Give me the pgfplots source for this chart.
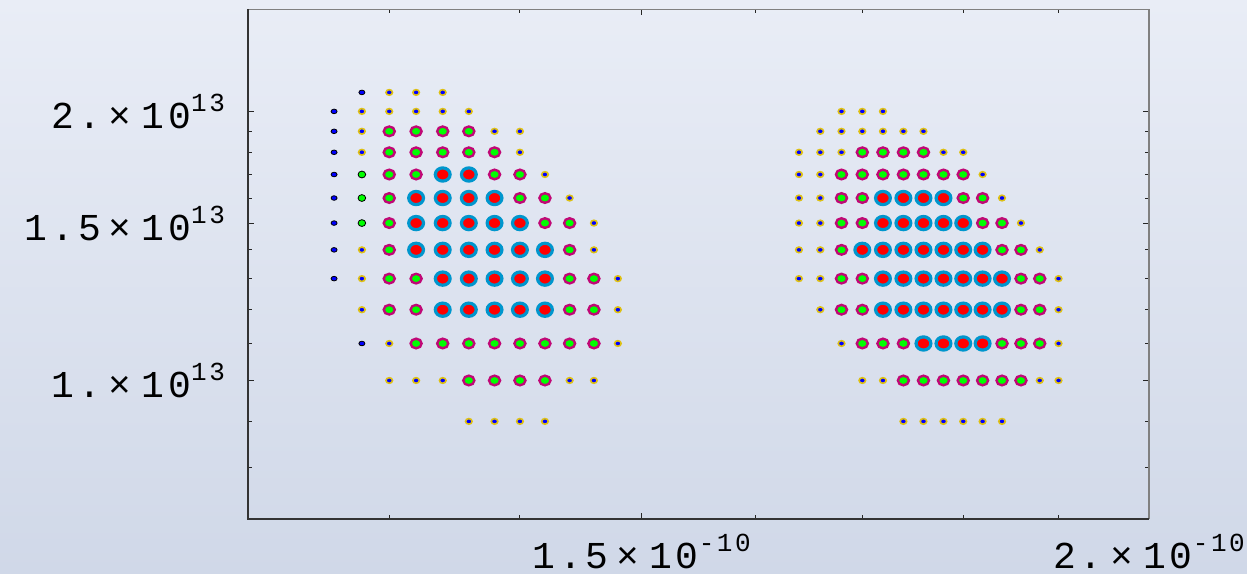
\documentclass[border=0pt]{standalone}
\usepackage{fontspec}
\usepackage{pgfplots}
\pgfplotsset{compat=1.18}
\newfontfamily\tickfont[LetterSpace=10]{Liberation Mono}
\newcommand{\lbl}[2]{{\tickfont\fontsize{19}{19}\selectfont #1\kern4pt×\kern5pt10\raisebox{8.5pt}{\fontsize{13}{13}\selectfont #2}}}
\definecolor{bgtop}{RGB}{233,237,246}
\definecolor{bgbot}{RGB}{208,216,232}
\definecolor{ringY}{RGB}{222,192,20}
\definecolor{ringM}{RGB}{192,8,118}
\definecolor{ringC}{RGB}{0,150,205}
\definecolor{pblue}{RGB}{0,0,255}
\definecolor{pgreen}{RGB}{0,255,0}
\definecolor{pred}{RGB}{255,0,0}
\begin{document}
\begin{tikzpicture}
\shade[top color=bgtop,bottom color=bgbot] (0,0) rectangle (623.5pt,286.5pt);
\useasboundingbox (0,0) rectangle (623.5pt,286.5pt);
% x in units of 1e-10, y in units of 1e13
\begin{axis}[at={(124pt,27pt)}, anchor=south west, scale only axis,
 width=450.5pt, height=254.75pt,
 xmode=log, ymode=log, xmin=1.2, xmax=2, ymin=0.7, ymax=2.6,
 xtick={1.5,2}, xticklabels={\lbl{1.5}{-10},\lbl{2.}{-10}},
 minor xtick={1.3,1.4,1.6,1.7,1.8,1.9},
 ytick={1,1.5,2}, yticklabels={\lbl{1.}{13},\lbl{1.5}{13},\lbl{2.}{13}},
 minor ytick={0.8,0.9,1.1,1.2,1.3,1.4,1.6,1.7,1.8,1.9},
 tick align=inside, major tick length=3pt, minor tick length=2pt,
 axis line style={draw=none},
 tick style={black!85, line width=0.5pt},
 yticklabel style={anchor=east, xshift=-8pt},
 xticklabel style={anchor=north, yshift=-4pt},
 clip=false,
 after end axis/.code={
   \draw[black!50, line width=0.9pt] (rel axis cs:0,1) -- (rel axis cs:1,1) -- (rel axis cs:1,0);
   \draw[black!80, line width=0.9pt] (rel axis cs:0,1) -- (rel axis cs:0,0) -- (rel axis cs:1,0);
 },
]
% A: plain small blue dots
\addplot[only marks, mark=*, mark size=1.15pt, mark options={fill=pblue, draw=none, xscale=1.3}] coordinates {
(1.28,2.1)(1.26,2.0)(1.26,1.9)(1.26,1.8)(1.26,1.7)
(1.26,1.6)(1.26,1.5)(1.26,1.4)(1.26,1.3)(1.28,1.1)
};
% E: plain green dots
\addplot[only marks, mark=*, mark size=1.7pt, mark options={fill=pgreen, draw=none, xscale=1.12}] coordinates {
(1.28,1.7)(1.28,1.6)(1.28,1.5)
};
% B: blue dot with yellow ring
\addplot[only marks, mark=*, mark size=1.4pt, mark options={fill=pblue, draw=ringY, line width=0.8pt, xscale=1.17}] coordinates {
(1.30,2.1)(1.32,2.1)(1.34,2.1)
(1.28,2.0)(1.30,2.0)(1.32,2.0)(1.34,2.0)(1.36,2.0)
(1.28,1.9)(1.38,1.9)(1.40,1.9)
(1.28,1.8)(1.40,1.8)
(1.42,1.7)
(1.44,1.6)
(1.46,1.5)
(1.28,1.4)(1.46,1.4)
(1.28,1.3)(1.48,1.3)
(1.28,1.2)(1.48,1.2)
(1.30,1.1)(1.48,1.1)
(1.30,1.0)(1.32,1.0)(1.34,1.0)(1.44,1.0)(1.46,1.0)
(1.36,0.9)(1.38,0.9)(1.40,0.9)(1.42,0.9)
(1.68,2.0)(1.70,2.0)(1.72,2.0)
(1.66,1.9)(1.68,1.9)(1.70,1.9)(1.72,1.9)(1.74,1.9)(1.76,1.9)
(1.64,1.8)(1.66,1.8)(1.68,1.8)(1.78,1.8)(1.80,1.8)
(1.64,1.7)(1.66,1.7)(1.82,1.7)
(1.64,1.6)(1.66,1.6)(1.84,1.6)
(1.64,1.5)(1.66,1.5)(1.86,1.5)
(1.64,1.4)(1.66,1.4)(1.88,1.4)
(1.64,1.3)(1.66,1.3)(1.90,1.3)
(1.66,1.2)(1.90,1.2)
(1.68,1.1)(1.90,1.1)
(1.70,1.0)(1.72,1.0)(1.88,1.0)(1.90,1.0)
(1.74,0.9)(1.76,0.9)(1.78,0.9)(1.80,0.9)(1.82,0.9)(1.84,0.9)
};
% C: green with magenta ring
\addplot[only marks, mark=*, mark size=2.4pt, mark options={fill=pgreen, draw=ringM, line width=1.2pt, xscale=1.15}] coordinates {
(1.30,1.9)(1.32,1.9)(1.34,1.9)(1.36,1.9)
(1.30,1.8)(1.32,1.8)(1.34,1.8)(1.36,1.8)(1.38,1.8)
(1.30,1.7)(1.32,1.7)(1.38,1.7)(1.40,1.7)
(1.30,1.6)(1.40,1.6)(1.42,1.6)
(1.30,1.5)(1.42,1.5)(1.44,1.5)
(1.30,1.4)(1.44,1.4)
(1.30,1.3)(1.32,1.3)(1.44,1.3)(1.46,1.3)
(1.30,1.2)(1.32,1.2)(1.44,1.2)(1.46,1.2)
(1.32,1.1)(1.34,1.1)(1.36,1.1)(1.38,1.1)(1.40,1.1)(1.42,1.1)(1.44,1.1)(1.46,1.1)
(1.36,1.0)(1.38,1.0)(1.40,1.0)(1.42,1.0)
(1.70,1.8)(1.72,1.8)(1.74,1.8)(1.76,1.8)
(1.68,1.7)(1.70,1.7)(1.72,1.7)(1.74,1.7)(1.76,1.7)(1.78,1.7)(1.80,1.7)
(1.68,1.6)(1.70,1.6)(1.80,1.6)(1.82,1.6)
(1.68,1.5)(1.70,1.5)(1.82,1.5)(1.84,1.5)
(1.68,1.4)(1.84,1.4)(1.86,1.4)
(1.68,1.3)(1.70,1.3)(1.86,1.3)(1.88,1.3)
(1.68,1.2)(1.70,1.2)(1.86,1.2)(1.88,1.2)
(1.70,1.1)(1.72,1.1)(1.74,1.1)(1.84,1.1)(1.86,1.1)(1.88,1.1)
(1.74,1.0)(1.76,1.0)(1.78,1.0)(1.80,1.0)(1.82,1.0)(1.84,1.0)(1.86,1.0)
};
% D: red with cyan ring
\addplot[only marks, mark=*, mark size=3.3pt, mark options={fill=pred, draw=ringC, line width=1.6pt, xscale=1.12}] coordinates {
(1.34,1.7)(1.36,1.7)
(1.32,1.6)(1.34,1.6)(1.36,1.6)(1.38,1.6)
(1.32,1.5)(1.34,1.5)(1.36,1.5)(1.38,1.5)(1.40,1.5)
(1.32,1.4)(1.34,1.4)(1.36,1.4)(1.38,1.4)(1.40,1.4)(1.42,1.4)
(1.34,1.3)(1.36,1.3)(1.38,1.3)(1.40,1.3)(1.42,1.3)
(1.34,1.2)(1.36,1.2)(1.38,1.2)(1.40,1.2)(1.42,1.2)
(1.72,1.6)(1.74,1.6)(1.76,1.6)(1.78,1.6)
(1.72,1.5)(1.74,1.5)(1.76,1.5)(1.78,1.5)(1.80,1.5)
(1.70,1.4)(1.72,1.4)(1.74,1.4)(1.76,1.4)(1.78,1.4)(1.80,1.4)(1.82,1.4)
(1.72,1.3)(1.74,1.3)(1.76,1.3)(1.78,1.3)(1.80,1.3)(1.82,1.3)(1.84,1.3)
(1.72,1.2)(1.74,1.2)(1.76,1.2)(1.78,1.2)(1.80,1.2)(1.82,1.2)(1.84,1.2)
(1.76,1.1)(1.78,1.1)(1.80,1.1)(1.82,1.1)
};
\end{axis}
\end{tikzpicture}
\end{document}
